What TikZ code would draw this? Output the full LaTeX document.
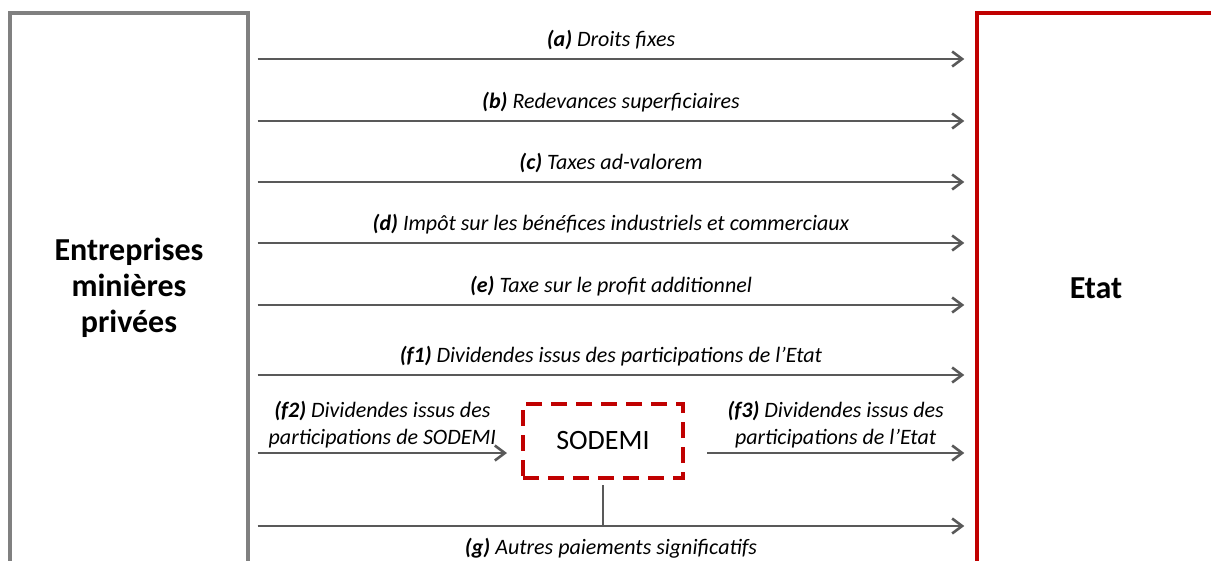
\documentclass[tikz,border=0pt]{standalone}
\usepackage{fontspec}
\setmainfont{Carlito}
\usetikzlibrary{arrows.meta}
\definecolor{boxgray}{HTML}{808080}
\definecolor{flowgray}{HTML}{595959}
\definecolor{etatred}{HTML}{C00000}
\tikzset{
    party/.style={
           rectangle,
           line width=3.4pt,
           minimum width=238pt,
           minimum height=550pt,
           inner sep=0pt,
           align=center,
           font=\fontsize{32}{36}\selectfont\bfseries,
           },
    sodemibox/.style={
           rectangle,
           draw=etatred,
           line width=4pt,
           dash pattern=on 16pt off 9pt,
           minimum width=160pt,
           minimum height=74pt,
           font=\fontsize{28}{32}\selectfont,
           },
    flow/.style={
           draw=flowgray,
           line width=2.6pt,
           -{Straight Barb[length=10pt,width=15pt]},
           },
    flowlabel/.style={
           above=7pt,
           inner sep=1pt,
           align=center,
           font=\fontsize{22}{27}\selectfont\itshape,
           },
}

\begin{document}
\begin{tikzpicture}[x=1pt,y=1pt]
    \clip (0,0) rectangle (1211,-560);

    % the two parties, both running off the bottom edge
    \node[party, draw=boxgray] (ent) at (129,-288)
        {Entreprises\\minières\\privées};
    \node[party, draw=etatred] (etat) at (1096,-288) {Etat};

    % where the flows start and end
    \coordinate[xshift=8pt]   (L) at (ent.east);
    \coordinate[xshift=-11pt] (R) at (etat.west);

    % direct payments to the State
    \foreach \y/\txt in {
        59/{\textbf{(a)} Droits fixes},
        121/{\textbf{(b)} Redevances superficiaires},
        182/{\textbf{(c)} Taxes ad-valorem},
        243/{\textbf{(d)} Impôt sur les bénéfices industriels et commerciaux},
        305/{\textbf{(e)} Taxe sur le profit additionnel},
        375/{\textbf{(f1)} Dividendes issus des participations de l’Etat}}
        \draw[flow] (L |- 0,-\y) -- (R |- 0,-\y)
            node[flowlabel, midway] {\txt};

    % payments through SODEMI
    \node[sodemibox] (sodemi) at (603,-441) {SODEMI};
    \coordinate (fin)  at ([xshift=-14pt]sodemi.west |- 0,-453);
    \coordinate (fout) at ([xshift=22pt]sodemi.east |- 0,-453);

    \draw[flow] (L |- fin) -- (fin)
        node[flowlabel, above=-4pt, midway] {\textbf{(f2)} Dividendes issus des\\participations de SODEMI};
    \draw[flow] (fout) -- (R |- fout)
        node[flowlabel, above=-4pt, midway] {\textbf{(f3)} Dividendes issus des\\participations de l’Etat};

    % other payments, SODEMI joins in
    \coordinate (gjoin) at (sodemi.south |- 0,-526);
    \draw[flow] (L |- gjoin) -- (R |- gjoin)
        node[flowlabel, below=17pt, midway] {\textbf{(g)} Autres paiements significatifs};
    \draw[flowgray, line width=2.6pt] ([yshift=-5pt]sodemi.south) -- (gjoin);
\end{tikzpicture}
\end{document}
